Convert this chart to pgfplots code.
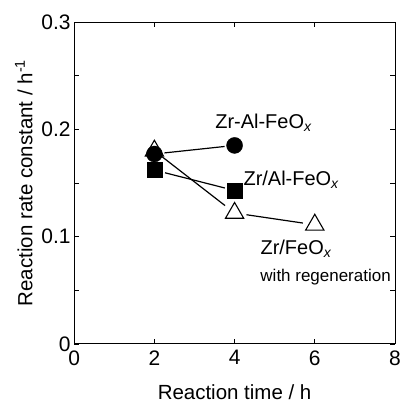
\documentclass[border=0pt]{standalone}
\usepackage{pgfplots}
\pgfplotsset{compat=1.18}
\usepackage{fontspec}
\setmainfont{Liberation Sans}

\begin{document}
\begin{tikzpicture}
\begin{axis}[
    name=ax,
    scale only axis,
    width=320bp, height=321bp,
    xmin=0, xmax=8, ymin=0, ymax=0.3,
    xtick={0,2,4,6,8},
    ytick={0,0.1,0.2,0.3},
    minor ytick={0.05,0.15,0.25},
    xticklabel={\fontsize{21}{23}\selectfont\pgfmathprintnumber{\tick}},
    yticklabel={\fontsize{21}{23}\selectfont\pgfmathprintnumber[fixed,precision=1]{\tick}},
    xticklabel style={yshift=-3bp},
    /pgf/number format/assume math mode=true,
    tick align=inside,
    major tick length=5bp, minor tick length=5bp,
    tick style={black, line width=0.6pt},
    axis line style={line width=0.8pt},
    xlabel={\fontsize{20.5}{22}\selectfont Reaction time / h},
    ylabel={\fontsize{20.5}{22}\selectfont Reaction rate constant / h\textsuperscript{-1}},
    xlabel style={at={(axis description cs:0.5,-0.172)}, anchor=base},
    ylabel style={at={(axis description cs:-0.13,0.5)}, anchor=base},
    clip=false,
]
% connecting segments, shortened so they stop short of the markers
\addplot[black, line width=1.2pt, shorten <=10bp, shorten >=10bp] coordinates {(2,0.177) (4,0.185)};
\addplot[black, line width=1.2pt, shorten <=11bp, shorten >=10bp] coordinates {(2,0.162) (4,0.143)};
\addplot[black, line width=1.2pt, shorten <=9bp, shorten >=12bp] coordinates {(2,0.180) (4,0.122)};
\addplot[black, line width=1.2pt, shorten <=12bp, shorten >=12bp] coordinates {(4,0.122) (6,0.111)};
% markers
\addplot[only marks, mark=triangle, mark size=10.5bp, mark options={black, fill=white, line width=1.1pt}] coordinates {(2,0.180) (4,0.122) (6,0.111)};
\addplot[only marks, mark=*, mark size=8bp, mark options={black, fill=black}] coordinates {(2,0.177) (4,0.185)};
\addplot[only marks, mark=square*, mark size=7.5bp, mark options={black, fill=black}] coordinates {(2,0.162) (4,0.143)};
% labels
\node[font=\fontsize{20}{22}\selectfont] at (axis cs:4.72,0.206) {Zr-Al-FeO\textsubscript{\itshape x}};
\node[font=\fontsize{20}{22}\selectfont] at (axis cs:5.41,0.153) {Zr/Al-FeO\textsubscript{\itshape x}};
\node[font=\fontsize{20}{22}\selectfont] at (axis cs:5.53,0.089) {Zr/FeO\textsubscript{\itshape x}};
\node[font=\fontsize{17}{19}\selectfont] at (axis cs:6.27,0.0625) {with regeneration};
\end{axis}
\pgfresetboundingbox
\path ([shift={(-74bp,-59bp)}]ax.south west) rectangle ([shift={(9bp,22bp)}]ax.north east);
\end{tikzpicture}
\end{document}
